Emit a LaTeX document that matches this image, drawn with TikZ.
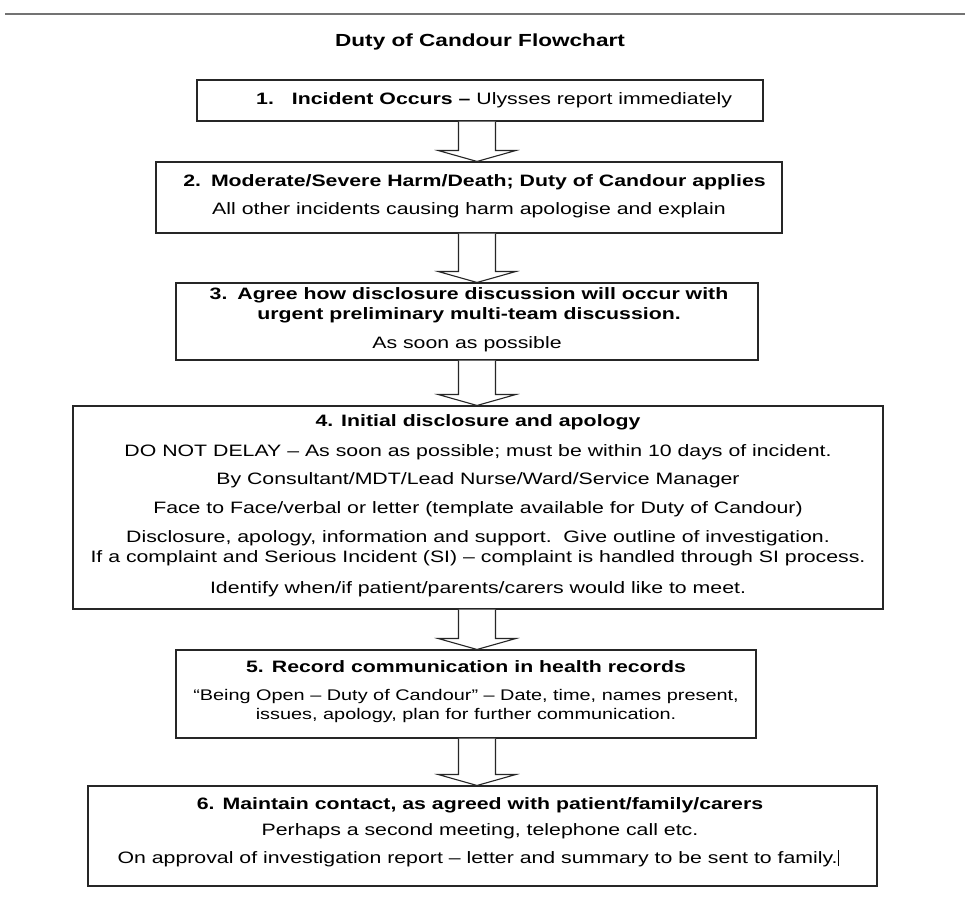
\documentclass[tikz,border=0pt]{standalone}
\usepackage{fontspec}
\setmainfont{Liberation Sans}[FakeStretch=1.29]
\usetikzlibrary{calc}
\newcommand\bodyfont{\fontsize{16.5}{20}\selectfont}
\newcommand\smallbodyfont{\fontsize{15.4}{19}\selectfont}
\newcommand\titlefont{\fontsize{17.5}{21}\selectfont\bfseries}
\tikzset{
  box/.style={draw=black!85, line width=1.1pt, inner sep=0pt, fill=white},
  blockarr/.style={draw=black!85, line width=1.1pt, fill=white, line join=miter},
  txt/.style={font=\bodyfont, inner sep=0pt, anchor=base},
  stxt/.style={txt, font=\smallbodyfont},
  hd/.style={txt, font=\bodyfont\bfseries},
  topline/.style={draw=black!55, line width=2.5pt},
}
\newcommand\blockarrow[2]{%
  \draw[blockarr] let \p1=(#1.south -| axis), \p2=(#2.north -| axis) in
    (\x1-18.5pt,\y1) -- (\x1-18.5pt,\y2+11pt) -- (\x1-39pt,\y2+11pt) -- (\x2,\y2)
    -- (\x1+39pt,\y2+11pt) -- (\x1+18.5pt,\y2+11pt) -- (\x1+18.5pt,\y1);}
\begin{document}
\begin{tikzpicture}[x=1pt,y=-1pt]
\useasboundingbox[fill=white] (0,0) rectangle (965,903);
\draw[topline] (5,14) -- (965,14);
\coordinate (axis) at (477,0);

\node[txt, font=\titlefont] (title) at (480,46) {Duty of Candour Flowchart};

% boxes
\node[box, minimum width=566pt, minimum height=41pt] (b1) at (480,100.5) {};
\node[box, minimum width=626pt, minimum height=71pt] (b2) at (469,197.5) {};
\node[box, minimum width=582pt, minimum height=77pt] (b3) at (467,321.5) {};
\node[box, minimum width=810pt, minimum height=203pt] (b4) at (478,507.5) {};
\node[box, minimum width=580pt, minimum height=88pt] (b5) at (466,694) {};
\node[box, minimum width=789pt, minimum height=100pt] (b6) at (482.5,836) {};

% arrows
\blockarrow{b1}{b2}
\blockarrow{b2}{b3}
\blockarrow{b3}{b4}
\blockarrow{b4}{b5}
\blockarrow{b5}{b6}

% box 1
\node[txt, anchor=base west] (t1) at (256,104) {\textbf{1.\hspace{18pt}Incident Occurs –} Ulysses report immediately};

% box 2
\node[hd] (t2a) at (474.5,186) {2.\hspace{10pt}Moderate/Severe Harm/Death; Duty of Candour applies};
\node[txt] (t2b) at (469,214) {All other incidents causing harm apologise and explain};

% box 3
\node[hd] (t3a) at (469,299) {3.\hspace{10pt}Agree how disclosure discussion will occur with};
\node[hd] (t3b) at (469,319) {urgent preliminary multi-team discussion.};
\node[txt] (t3c) at (467,348) {As soon as possible};

% box 4
\node[hd] (t4a) at (478,426) {4.\hspace{8pt}Initial disclosure and apology};
\node[txt] (t4b) at (478,456) {DO NOT DELAY – As soon as possible; must be within 10 days of incident.};
\node[txt] (t4c) at (478,484) {By Consultant/MDT/Lead Nurse/Ward/Service Manager};
\node[txt] (t4d) at (478,513) {Face to Face/verbal or letter (template available for Duty of Candour)};
\node[txt] (t4e) at (478,542) {Disclosure, apology, information and support.\ \ Give outline of investigation.};
\node[txt] (t4f) at (478,562) {If a complaint and Serious Incident (SI) – complaint is handled through SI process.};
\node[txt] (t4g) at (478,593) {Identify when/if patient/parents/carers would like to meet.};

% box 5
\node[hd] (t5a) at (466,672) {5.\hspace{8pt}Record communication in health records};
\node[stxt] (t5b) at (466,700) {“Being Open – Duty of Candour” – Date, time, names present,};
\node[stxt] (t5c) at (466,719) {issues, apology, plan for further communication.};

% box 6
\node[hd] (t6a) at (480,809) {6.\hspace{8pt}Maintain contact, as agreed with patient/family/carers};
\node[txt] (t6b) at (480,835) {Perhaps a second meeting, telephone call etc.};
\node[txt] (t6c) at (478,863) {On approval of investigation report – letter and summary to be sent to family.\rule[-3pt]{0.7pt}{16pt}};
\end{tikzpicture}
\end{document}
